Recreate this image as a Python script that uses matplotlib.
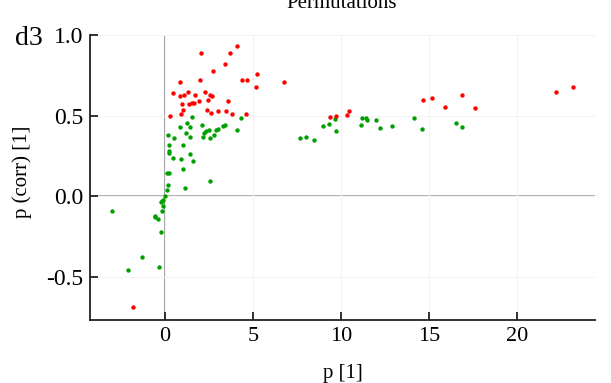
import matplotlib
matplotlib.use("Agg")
import matplotlib.pyplot as plt

# Red points (p [1], p(corr) [1])
red_x = [4.11, 2.06, 3.70, 3.39, 2.73, 5.23, 1.98, 0.87, 4.38, 4.68, 5.17, 0.45,
         1.34, 2.26, 0.86, 1.08, 1.70, 2.59, 2.69, 1.93, 2.45, 0.97, 3.61, 1.38,
         1.52, 1.63, 1.02, 0.94, 0.30, 2.39, 2.61, 3.04, 3.49, 3.80, 4.60, 6.78,
         14.62, 15.15, 16.85, 15.91, 17.61, 22.16, 23.18, 9.38, 9.69, 10.34, 10.47, -1.80]
red_y = [0.93, 0.89, 0.89, 0.82, 0.78, 0.76, 0.72, 0.71, 0.72, 0.72, 0.68, 0.64,
         0.65, 0.65, 0.62, 0.63, 0.63, 0.63, 0.62, 0.59, 0.60, 0.57, 0.59, 0.57,
         0.58, 0.58, 0.535, 0.51, 0.50, 0.535, 0.52, 0.53, 0.53, 0.51, 0.51, 0.71,
         0.597, 0.607, 0.63, 0.555, 0.55, 0.65, 0.675, 0.49, 0.50, 0.506, 0.527, -0.683]

# Green points
green_x = [1.53, 4.35, 1.27, 0.85, 1.44, 2.14, 3.41, 3.31, 3.03, 2.88, 2.53, 2.33,
           4.07, 1.23, 2.20, 2.16, 2.78, 2.59, 0.20, 0.55, 1.45, 0.23, 1.06, 0.23,
           0.24, 0.49, 1.44, 0.93, 1.58, 1.04, 0.15, 0.26, 2.56, 0.19, 1.15, 0.10,
           0.03, -0.08, -0.15, -0.23, -0.08, -3.01, -0.17, -0.57, -0.53, -0.36, -0.21,
           -1.27, -0.34, -2.09,
           7.69, 8.03, 8.47, 8.97, 9.30, 9.68, 9.73, 11.11, 11.21, 11.39, 11.48, 11.99,
           12.22, 12.90, 14.13, 14.60, 16.53, 16.84]
green_y = [0.49, 0.486, 0.455, 0.43, 0.43, 0.44, 0.44, 0.435, 0.42, 0.41, 0.41, 0.405,
           0.41, 0.39, 0.39, 0.37, 0.38, 0.36, 0.38, 0.36, 0.37, 0.32, 0.32, 0.28,
           0.27, 0.24, 0.26, 0.23, 0.22, 0.17, 0.146, 0.144, 0.097, 0.068, 0.05, 0.037,
           0.004, -0.02, -0.029, -0.037, -0.057, -0.093, -0.09, -0.12, -0.13, -0.142, -0.222,
           -0.377, -0.438, -0.455,
           0.362, 0.368, 0.35, 0.434, 0.446, 0.48, 0.405, 0.44, 0.486, 0.486, 0.475, 0.473,
           0.424, 0.434, 0.488, 0.415, 0.455, 0.428]

x_ticks = [0, 5, 10, 15, 20]
y_ticks = [-0.5, 0.0, 0.5, 1.0]
y_tick_labels = ["-0.5", "0.0", "0.5", "1.0"]

plt.rcParams['font.family'] = ['Liberation Serif', 'DejaVu Serif']

fig = plt.figure(figsize=(6.11, 3.83), dpi=100)
ax = fig.add_axes([90/611, 1-320/383, (595-90)/611, (320-35)/383])

ax.set_xlim(-4.24, 24.4)
ax.set_ylim(-0.765, 1.0)

ax.grid(True, color='#f3f3f3', linewidth=0.8, zorder=0)
ax.axvline(0, color='#a0a0a0', linewidth=1.4, zorder=1)
ax.axhline(0, color='#a0a0a0', linewidth=1.2, zorder=1)

ax.scatter(green_x, green_y, s=10, color='#00a000', marker='o', linewidths=0, zorder=3)
ax.scatter(red_x, red_y, s=10, color='#ff0000', marker='o', linewidths=0, zorder=3)

for s in ['top', 'right']:
    ax.spines[s].set_visible(False)
for s in ['left', 'bottom']:
    ax.spines[s].set_linewidth(1.3)
    ax.spines[s].set_color('#222222')

ax.set_xticks(x_ticks)
ax.set_yticks(y_ticks)
ax.set_yticklabels(y_tick_labels)
ax.tick_params(direction='in', length=6, width=1.3, labelsize=16, pad=5, colors='#222222')
ax.tick_params(axis='y', labelsize=17)
for lab in ax.get_xticklabels() + ax.get_yticklabels():
    lab.set_color('black')

ax.set_xlabel('p [1]', fontsize=15, labelpad=13)
fig.text(22/611, 1-172/383, 'p (corr) [1]', rotation=90, ha='center', va='center', fontsize=15)

fig.text(342/611, 1-8/383, 'Permutations', ha='center', va='baseline', fontsize=15)
fig.text(15/611, 1-45/383, 'd3', ha='left', va='baseline', fontsize=20)

fig.savefig('out.png', dpi=100)
